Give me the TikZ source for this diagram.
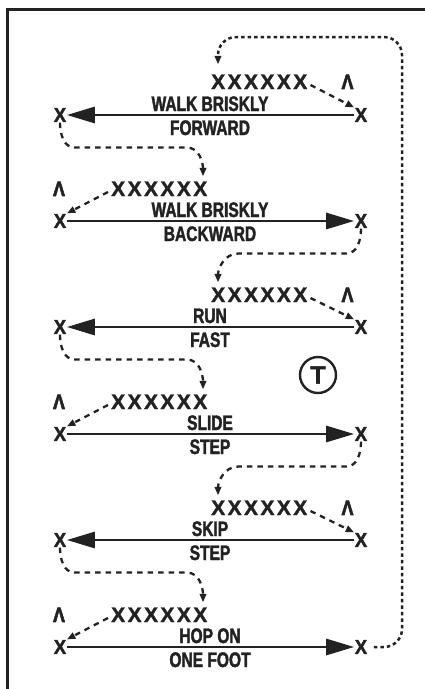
\documentclass[tikz,border=0pt]{standalone}
\usepackage{fontspec}
\setmainfont{Liberation Sans}
\newfontfamily\labelfont{Liberation Sans}[FakeStretch=0.74, FakeBold=1.8]
\newfontfamily\markfont{Liberation Sans}[FakeStretch=0.92, FakeBold=2]
\newfontfamily\rowfont{Liberation Sans}[LetterSpace=11.5, FakeBold=1.6]
\newfontfamily\caretfont{Liberation Sans}[FakeStretch=0.85, FakeBold=2.5]
\newfontfamily\teefont{Liberation Sans}[FakeBold=1.5]
\usetikzlibrary{arrows.meta,calc}
\definecolor{ink}{HTML}{222222}

\tikzset{
  endx/.style={inner sep=0.5pt, text=ink, font=\markfont\bfseries\fontsize{20}{20}\selectfont},
  lab/.style={inner sep=0pt, anchor=base, text=ink, font=\labelfont\bfseries\fontsize{21}{21}\selectfont},
  xrow/.style={inner sep=0pt, anchor=base west, text=ink, font=\rowfont\bfseries\fontsize{21}{21}\selectfont},
  caret/.style={inner sep=0pt, anchor=base, text=ink, font=\caretfont\bfseries\fontsize{21}{21}\selectfont},
  course/.style={draw=ink, line width=2.9pt, -{Triangle[length=28pt,width=16pt]}},
  jog/.style={draw=ink, line width=2.3pt, dash pattern=on 5.5pt off 5pt, -{Triangle[length=8.5pt,width=6.5pt]}},
  returnline/.style={draw=ink, line width=2.5pt, dash pattern=on 3.5pt off 3pt, rounded corners=18pt, -{Triangle[length=8.5pt,width=6.5pt]}},
  frame/.style={draw=ink, line width=2.5pt},
}

\begin{document}
\begin{tikzpicture}[x=1pt,y=1pt]
\useasboundingbox (0,0) rectangle (425,-689);

% border
\draw[frame] (425,-9.5) -| (7.5,-689);

% row 1: walk briskly forward (right to left)
\node[endx] (L1) at (60,-115) {X};
\node[endx] (R1) at (361,-115) {X};
\node[lab] (A1) at (210,-111) {WALK BRISKLY};
\node[lab] (B1) at (210,-135) {FORWARD};
\node[xrow] (S1) at (211,-89) {XXXXXX};
\node[caret] (C1) at (347.5,-89) {Λ};
\draw[course] (R1) -- (L1);
\draw[jog] ([shift={(3,4)}]S1.base east) -- (R1.north west);

% row 2: walk briskly backward (left to right)
\node[endx] (L2) at (60,-221) {X};
\node[endx] (R2) at (361,-221) {X};
\node[lab] (A2) at (210,-217) {WALK BRISKLY};
\node[lab] (B2) at (210,-241) {BACKWARD};
\node[xrow] (S2) at (111,-196) {XXXXXX};
\node[caret] (C2) at (59,-196) {Λ};
\draw[course] (L2) -- (R2);
\draw[jog] ([shift={(-3,4)}]S2.base west) -- (L2.north east);
\draw[jog] (L1.south) to[out=-90,in=180] ++(15,-25) -- ++(112,0)
  to[out=0,in=90] ([shift={(-4.5,5)}]S2.north east);

% row 3: run fast
\node[endx] (L3) at (60,-327) {X};
\node[endx] (R3) at (361,-327) {X};
\node[lab] (A3) at (210,-323) {RUN};
\node[lab] (B3) at (210,-347) {FAST};
\node[xrow] (S3) at (211,-302) {XXXXXX};
\node[caret] (C3) at (347.5,-302) {Λ};
\draw[course] (R3) -- (L3);
\draw[jog] ([shift={(3,4)}]S3.base east) -- (R3.north west);
\draw[jog] (R2.south) to[out=-90,in=0] ++(-15,-25) -- ++(-108,0)
  to[out=180,in=90] ([shift={(7,5)}]S3.north west);

% time-keeper marker
\node[draw=ink, circle, line width=2.4pt, minimum size=36pt, inner sep=0pt,
      text=ink, font=\teefont\bfseries\fontsize{25}{25}\selectfont] (tee) at (318,-375) {T};

% row 4: slide step
\node[endx] (L4) at (60,-434) {X};
\node[endx] (R4) at (361,-434) {X};
\node[lab] (A4) at (210,-430) {SLIDE};
\node[lab] (B4) at (210,-454) {STEP};
\node[xrow] (S4) at (111,-409) {XXXXXX};
\node[caret] (C4) at (59,-409) {Λ};
\draw[course] (L4) -- (R4);
\draw[jog] ([shift={(-3,4)}]S4.base west) -- (L4.north east);
\draw[jog] (L3.south) to[out=-90,in=180] ++(15,-25) -- ++(112,0)
  to[out=0,in=90] ([shift={(-4.5,5)}]S4.north east);

% row 5: skip step
\node[endx] (L5) at (60,-540) {X};
\node[endx] (R5) at (361,-540) {X};
\node[lab] (A5) at (210,-536) {SKIP};
\node[lab] (B5) at (210,-560) {STEP};
\node[xrow] (S5) at (211,-515) {XXXXXX};
\node[caret] (C5) at (347.5,-515) {Λ};
\draw[course] (R5) -- (L5);
\draw[jog] ([shift={(3,4)}]S5.base east) -- (R5.north west);
\draw[jog] (R4.south) to[out=-90,in=0] ++(-15,-25) -- ++(-108,0)
  to[out=180,in=90] ([shift={(7,5)}]S5.north west);

% row 6: hop on one foot
\node[endx] (L6) at (60,-647) {X};
\node[endx] (R6) at (361,-647) {X};
\node[lab] (A6) at (210,-643) {HOP ON};
\node[lab] (B6) at (210,-667) {ONE FOOT};
\node[xrow] (S6) at (111,-622) {XXXXXX};
\node[caret] (C6) at (59,-622) {Λ};
\draw[course] (L6) -- (R6);
\draw[jog] ([shift={(-3,4)}]S6.base west) -- (L6.north east);
\draw[jog] (L5.south) to[out=-90,in=180] ++(15,-25) -- ++(112,0)
  to[out=0,in=90] ([shift={(-4.5,5)}]S6.north east);

% return path back to the start
\coordinate (corner) at (402,-37);
\draw[returnline] ([xshift=6pt]R6.east) -| (corner) -| ([shift={(7,10)}]S1.north west);
\end{tikzpicture}
\end{document}
